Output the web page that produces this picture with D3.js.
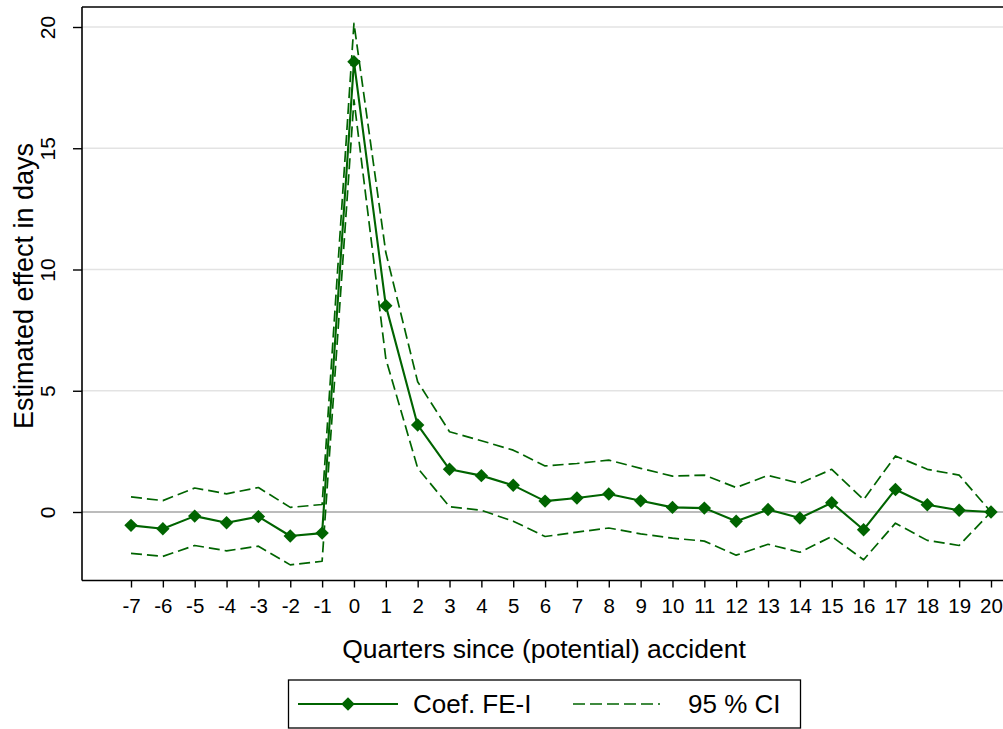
<!DOCTYPE html>
<html>
<head>
<meta charset="utf-8">
<script src="https://cdn.jsdelivr.net/npm/d3@7"></script>
<style>
  html, body { margin: 0; padding: 0; background: #fff; }
  svg { display: block; font-family: "Liberation Sans", Arial, sans-serif; }
</style>
</head>
<body>
<svg id="chart" width="1003" height="729"></svg>
<script>
// ---- data ----
const quarters = [-7,-6,-5,-4,-3,-2,-1,0,1,2,3,4,5,6,7,8,9,10,11,12,13,14,15,16,17,18,19,20];
const coef  = [-0.55,-0.69,-0.17,-0.44,-0.19,-0.99,-0.87,18.57,8.51,3.59,1.76,1.50,1.10,0.45,0.58,0.74,0.46,0.19,0.16,-0.38,0.10,-0.25,0.38,-0.73,0.93,0.30,0.07,0.0];
const upper = [0.62,0.47,0.99,0.75,1.01,0.19,0.31,20.15,10.70,5.37,3.31,2.94,2.55,1.90,2.00,2.14,1.80,1.48,1.52,1.01,1.51,1.18,1.76,0.51,2.31,1.76,1.52,0.0];
const lower = [-1.71,-1.83,-1.38,-1.60,-1.41,-2.18,-2.03,17.00,6.32,1.81,0.22,0.07,-0.38,-1.01,-0.83,-0.66,-0.90,-1.08,-1.20,-1.78,-1.33,-1.66,-1.01,-1.97,-0.46,-1.17,-1.38,0.0];
const yTicks = [0,5,10,15,20];
const gridValues = [5,10,15,20];
const xLabel = "Quarters since (potential) accident";
const yLabel = "Estimated effect in days";
const legendLabels = ["Coef. FE-I", "95 % CI"];

// ---- layout ----
const plotL = 82, plotT = 7, plotB = 580.5, plotR = 1010;
const green = "#006400";
const FONT = "Liberation Sans, Arial, sans-serif";

const svg = d3.select("#chart");

const x = d3.scaleLinear().domain([-7, 20]).range([131, 991]);
const y = d3.scaleLinear().domain([0, 20]).range([512, 27]);

// gridlines
svg.append("g").selectAll("line").data(gridValues).join("line")
  .attr("x1", plotL).attr("x2", plotR)
  .attr("y1", d => y(d)).attr("y2", d => y(d))
  .attr("stroke", "#e3e3e3").attr("stroke-width", 1.6);

// zero reference line
svg.append("line")
  .attr("x1", plotL).attr("x2", plotR)
  .attr("y1", y(0)).attr("y2", y(0))
  .attr("stroke", "#a6a6a6").attr("stroke-width", 1.6);

// frame top
svg.append("line").attr("x1", plotL).attr("x2", plotR)
  .attr("y1", plotT).attr("y2", plotT).attr("stroke", "#000").attr("stroke-width", 1.6);

// axes
const xAxis = d3.axisBottom(x).tickValues(quarters).tickSize(7).tickPadding(11).tickFormat(d => String(d));
const gx = svg.append("g").attr("transform", `translate(0,${plotB})`).call(xAxis);
gx.select(".domain").remove();
gx.selectAll(".tick line").attr("stroke", "#000").attr("stroke-width", 1.4);
gx.selectAll(".tick text").attr("font-size", 20.5).attr("fill", "#000").attr("font-family", FONT);
svg.append("line").attr("x1", plotL).attr("x2", plotR)
  .attr("y1", plotB).attr("y2", plotB).attr("stroke", "#000").attr("stroke-width", 1.6);

const yAxis = d3.axisLeft(y).tickValues(yTicks).tickSize(9).tickFormat(d => String(d));
const gy = svg.append("g").attr("transform", `translate(${plotL},0)`).call(yAxis);
gy.select(".domain").remove();
gy.selectAll(".tick line").attr("stroke", "#000").attr("stroke-width", 1.4);
gy.selectAll(".tick text").remove();
gy.selectAll(".tick").append("text")
  .attr("transform", "translate(-34,0) rotate(-90)")
  .attr("text-anchor", "middle").attr("dy", "0.35em")
  .attr("font-size", 21).attr("fill", "#000").attr("font-family", FONT)
  .text(d => d);
svg.append("line").attr("x1", plotL).attr("x2", plotL)
  .attr("y1", plotT).attr("y2", plotB).attr("stroke", "#000").attr("stroke-width", 1.6);

// axis titles
svg.append("text").attr("x", 544).attr("y", 658).attr("text-anchor", "middle")
  .attr("font-size", 26.5).attr("fill", "#000").text(xLabel);
svg.append("text").attr("transform", `translate(33,286) rotate(-90)`)
  .attr("text-anchor", "middle").attr("font-size", 27).attr("fill", "#000").text(yLabel);

// data lines
const pts = (arr) => quarters.map((q, i) => [q, arr[i]]);
const line = d3.line().x(d => x(d[0])).y(d => y(d[1]));

[upper, lower].forEach(arr => {
  svg.append("path").datum(pts(arr)).attr("d", line)
    .attr("fill", "none").attr("stroke", green).attr("stroke-width", 1.7)
    .attr("stroke-dasharray", "11,5").attr("stroke-linejoin", "round");
});
svg.append("path").datum(pts(coef)).attr("d", line)
  .attr("fill", "none").attr("stroke", green).attr("stroke-width", 2.1)
  .attr("stroke-linejoin", "round");

const diamond = d3.symbol().type(d3.symbolSquare).size(90);
svg.append("g").selectAll("path").data(pts(coef)).join("path")
  .attr("d", diamond)
  .attr("transform", d => `translate(${x(d[0])},${y(d[1])}) rotate(45)`)
  .attr("fill", green);

// legend
const lg = svg.append("g");
lg.append("rect").attr("x", 288.5).attr("y", 680).attr("width", 512).attr("height", 48)
  .attr("fill", "#fff").attr("stroke", "#000").attr("stroke-width", 1.3);
lg.append("line").attr("x1", 298).attr("x2", 398).attr("y1", 704).attr("y2", 704)
  .attr("stroke", green).attr("stroke-width", 2);
lg.append("path").attr("d", diamond).attr("transform", "translate(348,704) rotate(45)").attr("fill", green);
lg.append("text").attr("x", 413).attr("y", 713).attr("font-size", 26).attr("fill", "#000").text(legendLabels[0]);
lg.append("line").attr("x1", 573).attr("x2", 660).attr("y1", 704).attr("y2", 704)
  .attr("stroke", green).attr("stroke-width", 1.7).attr("stroke-dasharray", "12,5");
lg.append("text").attr("x", 688).attr("y", 713).attr("font-size", 26).attr("fill", "#000").text(legendLabels[1]);
</script>
</body>
</html>
